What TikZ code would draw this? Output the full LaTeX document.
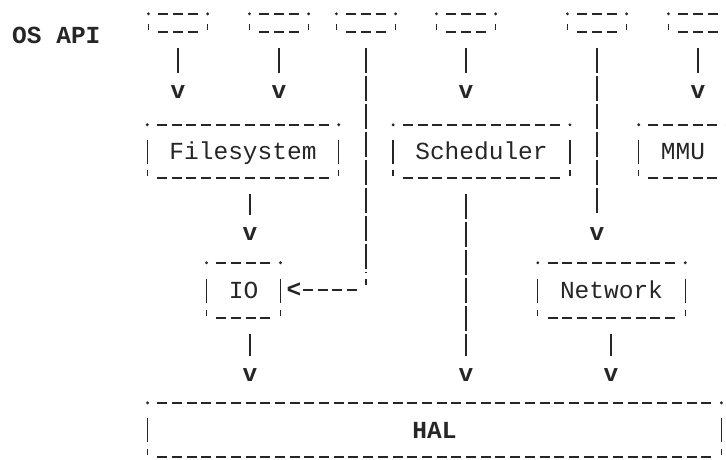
\documentclass[tikz,border=0pt]{standalone}
\usepackage{fontspec}
\setmonofont{Liberation Mono}
\usepackage{xcolor}

\definecolor{ink}{HTML}{262626}
\newcommand{\asciifont}{\ttfamily\fontsize{24.5}{28}\selectfont}

\tikzset{
  callbox/.style={rectangle, inner sep=0pt, minimum width=58.8, minimum height=18},
  asciibox/.style={rectangle, inner sep=0pt, minimum height=53, text height=16,
    text depth=0, font=\asciifont, text=ink},
  arrowchar/.style={inner sep=0pt, font=\asciifont\bfseries, text=ink},
  flow/.style={draw=ink, line width=1.3pt, shorten <=16pt, shorten >=12pt},
  longflow/.style={flow, dash pattern=on 25pt off 3pt},
  dashrow/.style={draw=ink, line width=2.2pt, dash pattern=on 10pt off 4.7pt},
  sidebar/.style={draw=ink, line width=1.3pt}
}

\begin{document}
\begin{tikzpicture}[x=1pt, y=-1pt]
    \useasboundingbox (0,0) rectangle (726,460);
    % API calls
    \node (osapi) [anchor=west, inner sep=0pt, text height=16, text depth=0,
      font=\asciifont\bfseries, text=ink] at (12,36) {OS API};
    \node (call1) [callbox] at (178,23) {};
    \node (call2) [callbox] at (279,23) {};
    \node (call3) [callbox] at (366,23) {};
    \node (call4) [callbox] at (466,23) {};
    \node (call5) [callbox] at (597,23) {};
    \node (call6) [callbox] at (698,23) {};

    % Modules
    \node (fs) [asciibox, minimum width=191.1] at (243,151.5) {Filesystem};
    \node (sched) [asciibox, minimum width=176.4] at (481.5,151.5) {Scheduler};
    \node (mmu) [asciibox, minimum width=88.2] at (683,151.5) {MMU};
    \node (io) [asciibox, minimum width=73.5, minimum height=55] at (243.5,290.5) {IO};
    \node (net) [asciibox, minimum width=147, minimum height=55] at (611.5,290.5) {Network};
    \node (hal) [asciibox, minimum width=573.3, minimum height=54,
      font=\asciifont\bfseries] at (434.5,430) {HAL};

    % Frames
    \foreach \n in {call1,call2,call3,call4,call5,call6,fs,sched,mmu,io,net,hal} {
      \fill[ink] (\n.north west) circle[radius=1.6pt] (\n.north east) circle[radius=1.6pt];
      \draw[dashrow] ([xshift=9.7pt]\n.north west) -- ([xshift=-9.7pt]\n.north east);
      \draw[dashrow] ([xshift=9.7pt]\n.south west) -- ([xshift=-9.7pt]\n.south east);
      \draw[sidebar] ([yshift=2pt]\n.south west) -- ++(0,-6);
      \draw[sidebar] ([yshift=2pt]\n.south east) -- ++(0,-6);
    }
    \foreach \n in {fs,sched,mmu,io,net,hal} {
      \draw[sidebar] ([yshift=12pt]\n.west) -- ([yshift=-12pt]\n.west);
      \draw[sidebar] ([yshift=12pt]\n.east) -- ([yshift=-12pt]\n.east);
    }

    % Arrow heads
    \node (v1) [arrowchar] at (178,92) {v};
    \node (v2) [arrowchar] at (279,92) {v};
    \node (v3) [arrowchar] at (466,92) {v};
    \node (v4) [arrowchar] at (698,92) {v};
    \node (v5) [arrowchar] at (250,234) {v};
    \node (v6) [arrowchar] at (597,234) {v};
    \node (v7) [arrowchar] at (250,375) {v};
    \node (v8) [arrowchar] at (466,375) {v};
    \node (v9) [arrowchar] at (611,375) {v};
    \node (back) [arrowchar] at (294,290) {<};
    \coordinate (bend) at (366,290);

    % Links
    \draw[flow] (call1) -- (v1);
    \draw[flow] (call2) -- (v2);
    \draw[flow] (call4) -- (v3);
    \draw[flow] (call6) -- (v4);
    \draw[longflow] (call5) -- (v6);
    \draw[flow] (v5 |- fs.south) -- (v5);
    \draw[longflow] (v8 |- sched.south) -- (v8);
    \draw[flow] (v7 |- io.south) -- (v7);
    \draw[flow] (v9 |- net.south) -- (v9);
    \draw[longflow, shorten >=17pt] (call3) -- (bend);
    \draw[sidebar] ([yshift=5pt]bend) -- ++(0,-6);
    \draw[dashrow, shorten <=9pt] (bend) -- (back);
\end{tikzpicture}
\end{document}
